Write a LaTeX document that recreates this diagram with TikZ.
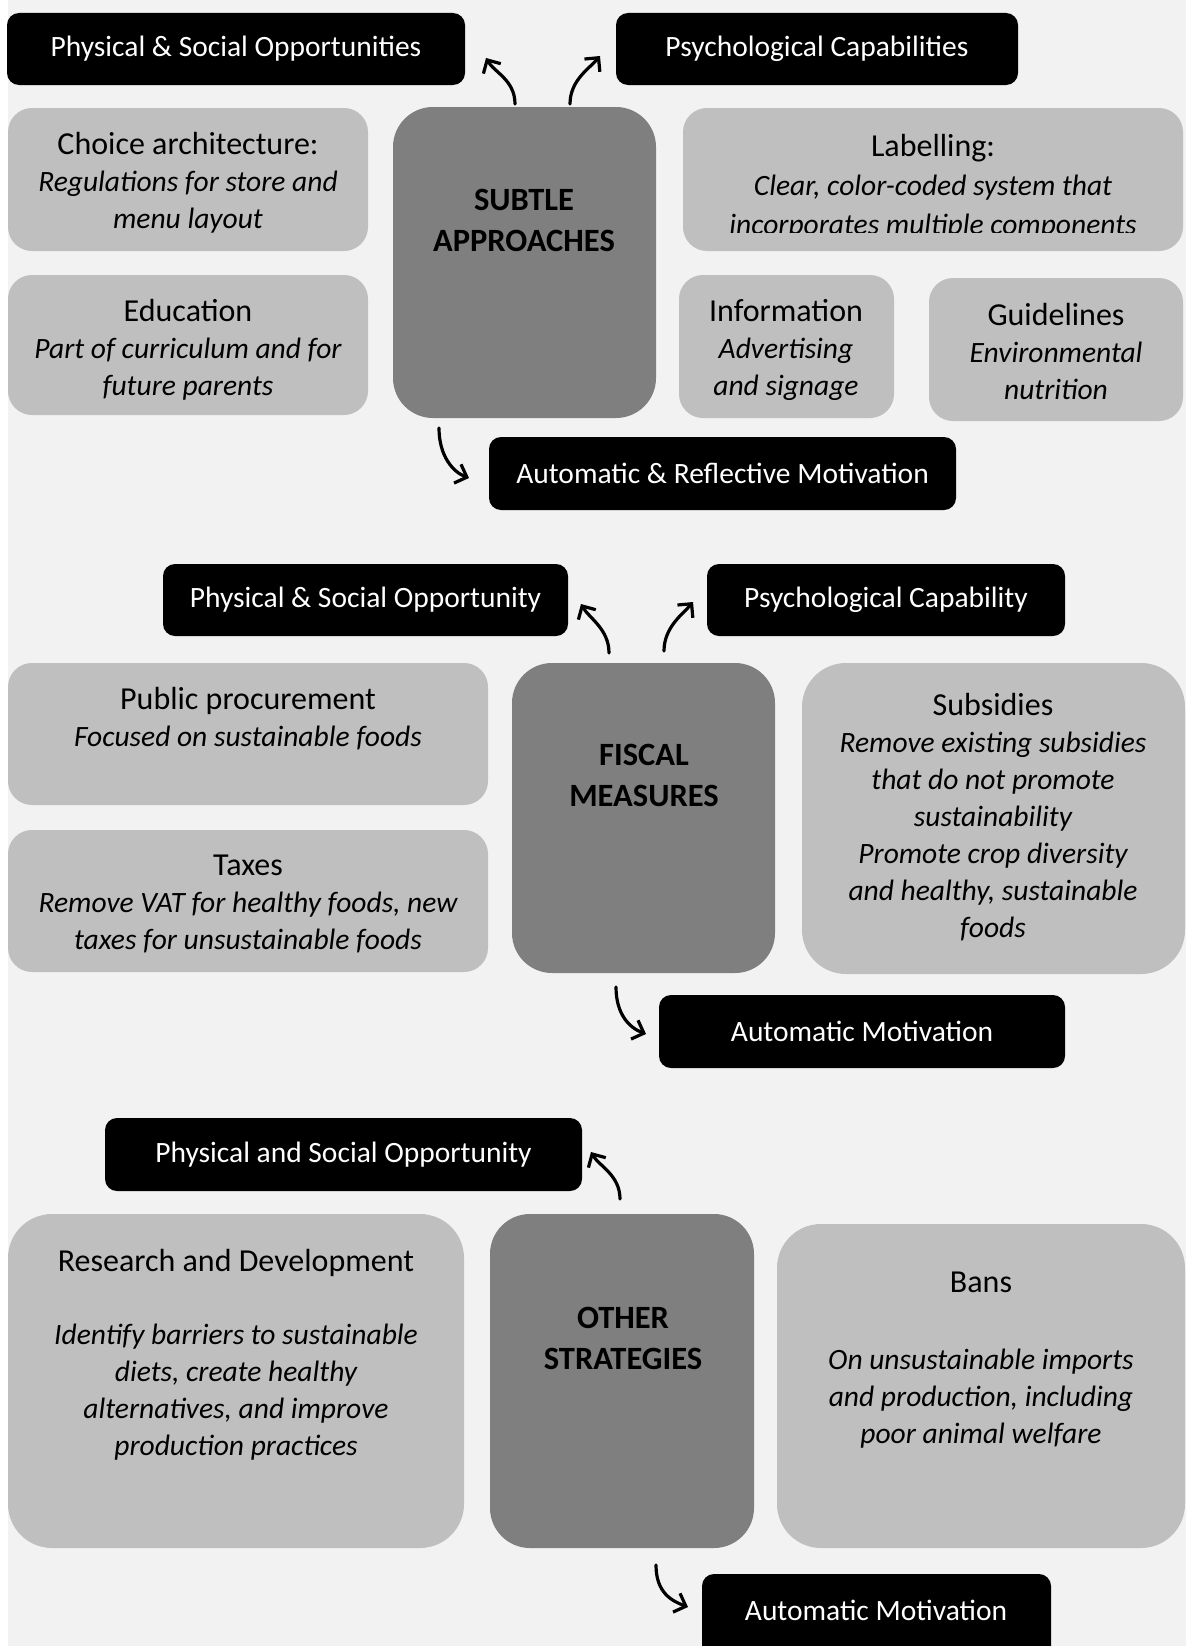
\documentclass[tikz,border=0pt]{standalone}
\usepackage{fontspec}
\setmainfont{Carlito}
\usepackage{tikz}
\usetikzlibrary{arrows.meta,positioning}
\definecolor{greyPage}{RGB}{242,242,242}
\definecolor{greyBox}{RGB}{191,191,191}
\definecolor{greyCore}{RGB}{127,127,127}
\newcommand{\boxtitle}[1]{{\fontsize{32}{37}\selectfont\upshape #1}}

\tikzset{
  panel/.style={fill=greyBox, rounded corners=24pt, inner sep=0pt, outer sep=0pt, anchor=north west},
  bigpanel/.style={panel, rounded corners=44pt},
  core/.style={fill=greyCore, rounded corners=40pt, inner sep=0pt, outer sep=0pt, anchor=north west},
  target/.style={fill=black, text=white, rounded corners=12pt, inner sep=0pt, outer sep=0pt,
                 anchor=north west, font=\fontsize{29.5}{35}\selectfont},
  ptext/.style={align=center, inner sep=0pt, font=\fontsize{29.5}{37}\selectfont\itshape},
  ctext/.style={align=center, inner sep=0pt, font=\fontsize{32.5}{41}\selectfont\bfseries},
  curl/.style={line width=3.2pt, line cap=round, -{Straight Barb[length=10pt,width=20pt]}}
}

\begin{document}
\begin{tikzpicture}[x=1pt, y=-1pt]

\clip (0,0) rectangle (1194,1646);
\fill[greyPage] (8,0) rectangle (1186,1646);

% --- subtle approaches
\node[target, minimum width=458pt, minimum height=72pt] (physOpps) at (7,13) {Physical \& Social Opportunities};
\node[target, minimum width=402pt, minimum height=72pt] (psyCaps) at (616,13) {Psychological Capabilities};

\node[panel, minimum width=360pt, minimum height=143pt] (choice) at (8,108) {};
\node[ptext] (choice-t) at (188,183) {\boxtitle{Choice architecture:}\\Regulations for store and\\menu layout};

\node[core, minimum width=263pt, minimum height=311pt] (subtle) at (393,107) {};
\node[ctext] (subtle-t) at (524,220) {SUBTLE\\APPROACHES};

\node[panel, minimum width=500pt, minimum height=143pt] (label) at (683,108) {};
\begin{scope}
  \clip (683,108) rectangle (1183,232);
  \node[ptext] (label-t) at (933,187) {\boxtitle{Labelling:}\\[2pt]Clear, color-coded system that\\[2pt]incorporates multiple components};
\end{scope}

\node[panel, minimum width=360pt, minimum height=140pt] (educ) at (8,275) {};
\node[ptext] (educ-t) at (188,350) {\boxtitle{Education}\\Part of curriculum and for\\future parents};

\node[panel, minimum width=215pt, minimum height=143pt] (info) at (679,275) {};
\node[ptext] (info-t) at (786,350) {\boxtitle{Information}\\Advertising\\and signage};

\node[panel, minimum width=254pt, minimum height=143pt] (guide) at (929,278) {};
\node[ptext] (guide-t) at (1056,351) {\boxtitle{Guidelines}\\Environmental\\nutrition};

\node[target, minimum width=467pt, minimum height=73pt] (autoRefl) at (489,437) {Automatic \& Reflective Motivation};

\coordinate (subtleL) at (515,104);
\coordinate (physOppsIn) at (486,58);
\coordinate (subtleR) at (570,104);
\coordinate (psyCapsIn) at (600,56);
\coordinate (subtleB) at (439,428);
\coordinate (autoReflIn) at (469,478);
\draw[curl] (subtleL) .. controls +(0,-24) and +(8,14) .. (physOppsIn);
\draw[curl] (subtleR) .. controls +(0,-24) and +(-10,12) .. (psyCapsIn);
\draw[curl] (subtleB) .. controls +(0,28) and +(-16,-6) .. (autoReflIn);

% --- fiscal measures
\node[target, minimum width=405pt, minimum height=72pt] (physOpp) at (163,564) {Physical \& Social Opportunity};
\node[target, minimum width=358pt, minimum height=72pt] (psyCap) at (707,564) {Psychological Capability};

\node[panel, minimum width=480pt, minimum height=142pt] (proc) at (8,663) {};
\node[ptext] (proc-t) at (248,719) {\boxtitle{Public procurement}\\Focused on sustainable foods};

\node[core, minimum width=263pt, minimum height=310pt] (fiscal) at (512,663) {};
\node[ctext] (fiscal-t) at (644,775) {FISCAL\\MEASURES};

\node[bigpanel, minimum width=383pt, minimum height=311pt] (subs) at (802,663) {};
\node[ptext] (subs-t) at (993,817) {\boxtitle{Subsidies}\\Remove existing subsidies\\that do not promote\\sustainability\\Promote crop diversity\\and healthy, sustainable\\foods};

\node[panel, minimum width=480pt, minimum height=142pt] (tax) at (8,830) {};
\node[ptext] (tax-t) at (248,904) {\boxtitle{Taxes}\\Remove VAT for healthy foods, new\\taxes for unsustainable foods};

\node[target, minimum width=406pt, minimum height=73pt] (autoMot) at (659,995) {Automatic Motivation};

\coordinate (fiscalL) at (609,653);
\coordinate (physOppIn) at (581,604);
\coordinate (fiscalR) at (664,651);
\coordinate (psyCapIn) at (693,602);
\coordinate (fiscalB) at (616,987);
\coordinate (autoMotIn) at (646,1034);
\draw[curl] (fiscalL) .. controls +(0,-24) and +(8,14) .. (physOppIn);
\draw[curl] (fiscalR) .. controls +(0,-24) and +(-10,12) .. (psyCapIn);
\draw[curl] (fiscalB) .. controls +(0,28) and +(-16,-6) .. (autoMotIn);

% --- other strategies
\node[target, minimum width=477pt, minimum height=73pt] (physSoc) at (105,1118) {Physical and Social Opportunity};

\node[bigpanel, minimum width=456pt, minimum height=334pt] (rnd) at (8,1214) {};
\node[ptext] (rnd-t) at (236,1355) {\boxtitle{Research and Development}\\[36pt]Identify barriers to sustainable\\diets, create healthy\\alternatives, and improve\\production practices};

\node[core, minimum width=264pt, minimum height=334pt] (other) at (490,1214) {};
\node[ctext] (other-t) at (623,1338) {OTHER\\STRATEGIES};

\node[bigpanel, minimum width=408pt, minimum height=324pt] (bans) at (777,1224) {};
\node[ptext] (bans-t) at (981,1360) {\boxtitle{Bans}\\[40pt]On unsustainable imports\\and production, including\\poor animal welfare};

\node[target, minimum width=349pt, minimum height=90pt] (autoMotB) at (702,1574) {};
\node[text=white, font=\fontsize{29.5}{35}\selectfont] (autoMotB-t) at (876,1610) {Automatic Motivation};

\coordinate (otherT) at (620,1199);
\coordinate (physSocIn) at (591,1152);
\coordinate (otherB) at (656,1565);
\coordinate (autoMotBIn) at (688,1607);
\draw[curl] (otherT) .. controls +(0,-24) and +(8,14) .. (physSocIn);
\draw[curl] (otherB) .. controls +(0,28) and +(-16,-6) .. (autoMotBIn);

\end{tikzpicture}
\end{document}
